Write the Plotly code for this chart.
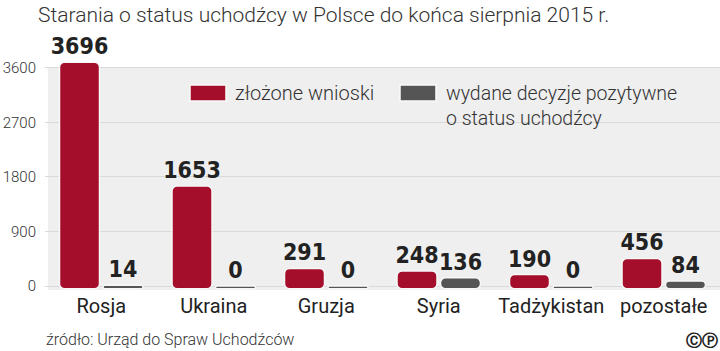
import plotly.graph_objects as go

categories = ["Rosja", "Ukraina", "Gruzja", "Syria", "Tadżykistan", "pozostałe"]
wnioski = [3696, 1653, 291, 248, 190, 456]
decyzje = [14, 0, 0, 136, 0, 84]
y_ticks = [0, 900, 1800, 2700, 3600]
series_names = ["złożone wnioski", "wydane decyzje pozytywne<br>o status uchodźcy"]
title_text = "Starania o status uchodźcy w Polsce do końca sierpnia 2015 r."
source_text = "źródło: Urząd do Spraw Uchodźców"

RED = "#a50e2b"
GRAY = "#555555"
W, H = 720, 351
L, R, T, B = 45, 0, 30, 61
pw, ph = W - L - R, H - T - B

def px(x):
    return (x - L) / pw

def py(y):
    return (H - B - y) / ph

label_font = dict(family="DejaVu Sans Condensed", size=23, color="#222222", weight="bold")

fig = go.Figure()
for vals, color, name in [(wnioski, RED, series_names[0]), (decyzje, GRAY, series_names[1])]:
    fig.add_trace(go.Bar(
        x=categories, y=[v + 45 for v in vals], base=-45, name=name,
        marker=dict(color=color, line=dict(color="#f7f7f7", width=1.5), cornerradius=5),
        text=[str(v) for v in vals], textposition="outside", textfont=label_font,
        constraintext="none",
        cliponaxis=False, showlegend=False, hoverinfo="skip",
    ))

fig.update_layout(
    width=W, height=H,
    margin=dict(l=L, r=R, t=T, b=B, pad=0),
    paper_bgcolor="white", plot_bgcolor="white",
    barmode="group", bargap=0.227, bargroupgap=0.08,
    xaxis=dict(showgrid=False, showline=False, ticks="", zeroline=False,
               tickfont=dict(family="Roboto", size=20, color="#222222"),
               ticklabelstandoff=2),
    yaxis=dict(range=[-66, 4227], tickvals=y_ticks, showgrid=True, gridcolor="#d9d9d9",
               gridwidth=1, zeroline=False, showline=False, ticks="",
               tickfont=dict(family="Roboto", size=15, color="#333333", weight=300),
               ticklabelstandoff=8),
    font=dict(family="Roboto"),
)

# plot background panel
fig.add_shape(type="rect", xref="paper", yref="y", x0=px(48), x1=1.0, y0=-66, y1=3600,
              fillcolor="#efefef", line=dict(width=0), layer="below")

# custom legend
for x0, color in [(190, RED), (400, GRAY)]:
    fig.add_shape(type="rect", xref="paper", yref="paper",
                  x0=px(x0), x1=px(x0 + 36), y0=py(101), y1=py(85),
                  fillcolor=color, line=dict(color="#fafafa", width=1.5))
fig.add_annotation(xref="paper", yref="paper", x=px(233), y=py(93), xanchor="left", yanchor="middle",
                   text=series_names[0], showarrow=False,
                   font=dict(family="Roboto", size=20, color="#333333", weight=300))
fig.add_annotation(xref="paper", yref="paper", x=px(444), y=py(80), xanchor="left", yanchor="top",
                   text=series_names[1], showarrow=False, align="left",
                   font=dict(family="Roboto", size=19.5, color="#333333", weight=300))

# title
fig.add_annotation(xref="paper", yref="paper", x=px(36), y=py(15), xanchor="left", yanchor="middle",
                   text=title_text, showarrow=False,
                   font=dict(family="Roboto", size=21, color="#333333", weight=300))
# source
fig.add_annotation(xref="paper", yref="paper", x=px(44), y=py(339), xanchor="left", yanchor="middle",
                   text=source_text, showarrow=False,
                   font=dict(family="Roboto", size=16, color="#333333", weight=300))
# logo
fig.add_annotation(xref="paper", yref="paper", x=1.0, y=py(340), xanchor="right", yanchor="middle",
                   text="ⒸⓅ", showarrow=False,
                   font=dict(family="DejaVu Sans", size=16, color="#222222", weight="bold"))

fig.write_html("out.html")
